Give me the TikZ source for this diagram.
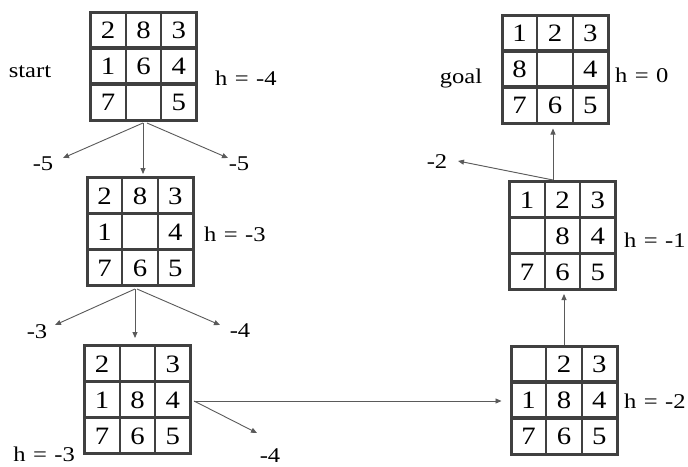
\documentclass[tikz,border=0pt]{standalone}
\usepackage{fontspec}
\usepackage{graphicx}
\setmainfont{Liberation Serif}
\usetikzlibrary{arrows.meta}
\definecolor{gridc}{HTML}{404040}
\definecolor{arrc}{HTML}{5A5A5A}
\newcommand\dg[1]{\scalebox{1.15}[1]{#1}}
\newcommand\lb[1]{\scalebox{1.17}[1]{#1}}
\tikzset{
  gridbox/.style={draw=gridc, line width=3pt, minimum width=106pt, minimum height=108pt, inner sep=0pt},
  rowline/.style={draw=gridc, line width=3.6pt},
  colline/.style={draw=gridc, line width=2.2pt},
  digit/.style={font=\fontsize{25}{25}\selectfont, text height=17pt, text depth=0pt, inner sep=0pt},
  lab/.style={font=\fontsize{21}{21}\selectfont, inner sep=0pt},
  arr/.style={draw=arrc, line width=0.9pt, -{Triangle[length=6pt,width=5pt]}}
}
\newcommand\hsp{\hspace{0.3em}}
\newcommand\puzzle[4]{%
  \node[gridbox] (#1) at (#2,#3) {};
  \begin{scope}[shift={(#2,#3)}]
    \draw[rowline] (-53,-18) -- (53,-18);
    \draw[rowline] (-53,18) -- (53,18);
    \draw[colline] (-17.7,-54) -- (-17.7,54);
    \draw[colline] (17.7,-54) -- (17.7,54);
    \foreach \v [count=\i from 0] in {#4} {
      \pgfmathtruncatemacro\cc{mod(\i,3)}
      \pgfmathtruncatemacro\rr{\i/3}
      \node[digit] (#1-\i) at ({(\cc-1)*35.4},{(\rr-1)*36}) {\dg{\v}};
    }
  \end{scope}
}
\begin{document}
\begin{tikzpicture}[x=1pt,y=-1pt]
\fill[white] (0,0) rectangle (688,466);
\useasboundingbox (0,0) rectangle (688,466);

\puzzle{g1}{143.5}{66}{2,8,3,1,6,4,7,,5}
\puzzle{g2}{140}{231.5}{2,8,3,1,,4,7,6,5}
\puzzle{g3}{137.5}{399.5}{2,,3,1,8,4,7,6,5}
\puzzle{g4}{564}{400}{,2,3,1,8,4,7,6,5}
\puzzle{g5}{562.5}{235.5}{1,2,3,,8,4,7,6,5}
\puzzle{g6}{555}{69}{1,2,3,8,,4,7,6,5}

% labels
\node[lab, anchor=base] (tstart) at (30,77) {\lb{start}};
\node[lab, anchor=base] (tgoal) at (461,83) {\lb{goal}};
\node[lab, anchor=base west] (h1) at (215,85) {\lb{h\hsp=\hsp-4}};
\node[lab, anchor=base west] (h2) at (204,241) {\lb{h\hsp=\hsp-3}};
\node[lab, anchor=base east] (h3) at (75,461) {\lb{h\hsp=\hsp-3}};
\node[lab, anchor=base west] (h4) at (624,408) {\lb{h\hsp=\hsp-2}};
\node[lab, anchor=base west] (h5) at (624,247) {\lb{h\hsp=\hsp-1}};
\node[lab, anchor=base west] (h6) at (615,82) {\lb{h\hsp=\hsp0}};

\node[lab, anchor=base] (n1l) at (43,170) {\lb{-5}};
\node[lab, anchor=base] (n1r) at (239,170) {\lb{-5}};
\node[lab, anchor=base] (n2l) at (37,338) {\lb{-3}};
\node[lab, anchor=base] (n2r) at (240,337) {\lb{-4}};
\node[lab, anchor=base] (n3) at (270,462) {\lb{-4}};
\node[lab, anchor=base] (n5) at (437,168) {\lb{-2}};

% connectors
\coordinate (s1) at (143,123);
\coordinate (s1r) at (147,123);
\coordinate (e1l) at (63,158);
\coordinate (e1r) at (228,158);
\draw[arr] (s1) -- (e1l);
\draw[arr, shorten >=2pt] (s1) -- (s1 |- g2.north);
\draw[arr] (s1r) -- (e1r);

\coordinate (s2) at (135,289);
\coordinate (s2r) at (137,289);
\coordinate (e2l) at (55,325);
\coordinate (e2r) at (220,325);
\draw[arr] (s2) -- (e2l);
\draw[arr, shorten >=6pt] (s2) -- (s2 |- g3.north);
\draw[arr] (s2r) -- (e2r);

\coordinate (s3) at (194,401);
\coordinate (e3) at (257,433);
\draw[arr, shorten >=8pt] (s3) -- (s3 -| g4.west);
\draw[arr] (s3) -- (e3);

\draw[arr, shorten >=3pt] (g4.north) -- (g4.north |- g5.south);

\coordinate (s5) at (553,180);
\coordinate (e5) at (458,161);
\draw[arr, shorten >=4pt] (s5) -- (s5 |- g6.south);
\draw[arr] (s5) -- (e5);
\end{tikzpicture}
\end{document}
